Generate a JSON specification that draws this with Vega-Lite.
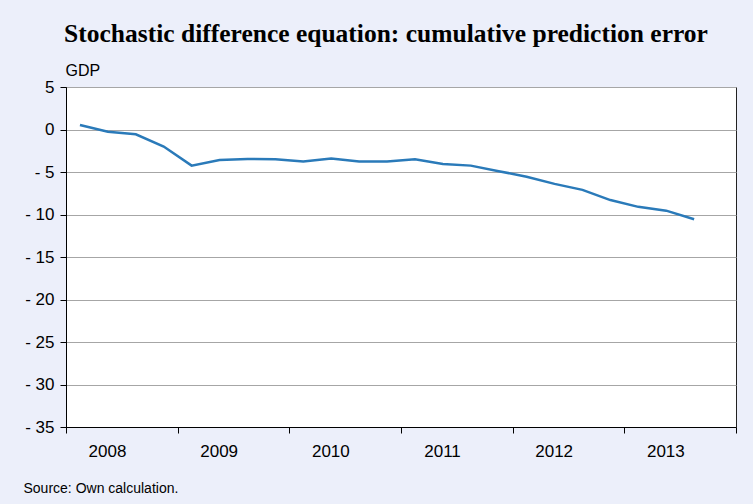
{
  "$schema": "https://vega.github.io/schema/vega-lite/v6.json",
  "width": 670,
  "height": 340,
  "autosize": {"type": "none"},
  "padding": {"left": 66, "top": 87, "right": 17, "bottom": 77},
  "background": "#ECEFFA",
  "config": {
    "view": {"fill": "white", "stroke": "#222222", "strokeWidth": 1},
    "font": "Liberation Sans"
  },
  "title": {
    "text": "Stochastic difference equation: cumulative prediction error",
    "font": "Liberation Serif",
    "fontSize": 25.5,
    "fontWeight": "bold",
    "color": "#000000",
    "anchor": "middle",
    "dx": -15,
    "offset": 15
  },
  "data": {
    "values": [
      {"t": 0.5, "v": 0.53},
      {"t": 1.5, "v": -0.26},
      {"t": 2.5, "v": -0.57},
      {"t": 3.5, "v": -2.0},
      {"t": 4.5, "v": -4.25},
      {"t": 5.5, "v": -3.6},
      {"t": 6.5, "v": -3.47},
      {"t": 7.5, "v": -3.5},
      {"t": 8.5, "v": -3.75},
      {"t": 9.5, "v": -3.4},
      {"t": 10.5, "v": -3.75},
      {"t": 11.5, "v": -3.75},
      {"t": 12.5, "v": -3.5},
      {"t": 13.5, "v": -4.06},
      {"t": 14.5, "v": -4.25},
      {"t": 15.5, "v": -4.9},
      {"t": 16.5, "v": -5.55},
      {"t": 17.5, "v": -6.4},
      {"t": 18.5, "v": -7.1},
      {"t": 19.5, "v": -8.3},
      {"t": 20.5, "v": -9.1},
      {"t": 21.5, "v": -9.55},
      {"t": 22.5, "v": -10.56}
    ]
  },
  "mark": {"type": "line", "color": "#2A7AB9", "strokeWidth": 2.5},
  "encoding": {
    "x": {
      "field": "t",
      "type": "quantitative",
      "scale": {"domain": [0, 24], "nice": false, "zero": false},
      "axis": {
        "values": [0, 4, 8, 12, 16, 20, 24],
        "labelExpr": "datum.value < 24 ? '' + (2008 + datum.value / 4) : ''",
        "labelOffset": 41,
        "labelAlign": "center",
        "labelFlush": false,
        "labelFontSize": 17,
        "labelColor": "#000000",
        "labelPadding": 10,
        "tickSize": 6,
        "tickColor": "#000000",
        "domainColor": "#000000",
        "grid": false,
        "title": "Source: Own calculation.",
        "titleFontSize": 14,
        "titleFontWeight": "normal",
        "titleColor": "#000000",
        "titleAlign": "left",
        "titleAnchor": null,
        "titleX": -43,
        "titleY": 65,
        "titleBaseline": "alphabetic"
      }
    },
    "y": {
      "field": "v",
      "type": "quantitative",
      "scale": {"domain": [-35, 5], "nice": false, "zero": false},
      "axis": {
        "values": [-35, -30, -25, -20, -15, -10, -5, 0, 5],
        "labelExpr": "datum.value < 0 ? '- ' + (-datum.value) : '' + datum.value",
        "labelFontSize": 17,
        "labelColor": "#000000",
        "labelPadding": 6,
        "tickSize": 6,
        "tickColor": "#000000",
        "domainColor": "#000000",
        "grid": true,
        "gridColor": "#A6A6A6",
        "gridWidth": 1,
        "gridOpacity": 1,
        "title": "GDP",
        "titleAngle": 0,
        "titleFontSize": 16,
        "titleFontWeight": "normal",
        "titleColor": "#000000",
        "titleAlign": "left",
        "titleAnchor": null,
        "titleX": -1,
        "titleY": -12,
        "titleBaseline": "alphabetic"
      }
    }
  }
}
